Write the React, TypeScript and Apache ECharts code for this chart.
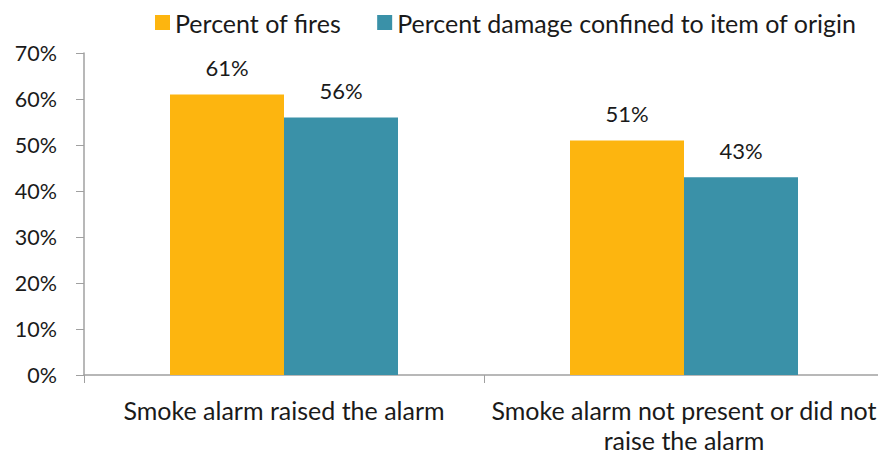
import React, { useEffect, useRef } from "react";
import * as echarts from "echarts";

const categories = ["Smoke alarm raised the alarm", "Smoke alarm not present or did not\nraise the alarm"];
const seriesNames = ["Percent of fires", "Percent damage confined to item of origin"];
const percentOfFires = [61, 51];
const percentConfined = [56, 43];
const yTicks = [0, 10, 20, 30, 40, 50, 60, 70];

const FONT = "Lato";

export default function App() {
  const ref = useRef<HTMLDivElement>(null);
  useEffect(() => {
    const chart = echarts.init(ref.current!, undefined, { renderer: "svg" });
    const labelStyle = {
      show: true,
      position: "top" as const,
      distance: 16,
      formatter: "{c}%",
      fontFamily: FONT,
      fontSize: 22,
      color: "#1a1a1a",
    };
    chart.setOption({
      animation: false,
      textStyle: { fontFamily: FONT },
      legend: {
        top: 5,
        left: 150,
        itemWidth: 15,
        itemHeight: 15,
        itemGap: 36,
        icon: "rect",
        textStyle: { fontFamily: FONT, fontSize: 25, color: "#1a1a1a" },
        data: seriesNames,
      },
      grid: { left: 84, top: 53, width: 800, height: 323, containLabel: false },
      xAxis: {
        type: "category",
        data: categories,
        axisLine: { lineStyle: { color: "#a0a0a0", width: 1.5 } },
        axisTick: { show: true, length: 8, alignWithLabel: false, lineStyle: { color: "#a0a0a0" } },
        axisLabel: {
          fontFamily: FONT,
          fontSize: 25,
          color: "#1a1a1a",
          margin: 20,
          lineHeight: 30,
          interval: 0,
        },
      },
      yAxis: {
        type: "value",
        min: 0,
        max: 70,
        interval: 10,
        splitLine: { show: false },
        axisLine: { show: true, lineStyle: { color: "#a0a0a0", width: 1.5 } },
        axisTick: { show: true, inside: false, length: 8, lineStyle: { color: "#a0a0a0" } },
        axisLabel: {
          fontFamily: FONT,
          fontSize: 21.5,
          color: "#1a1a1a",
          margin: 27,
          formatter: (v: number) => (yTicks.includes(v) ? v + "%" : ""),
        },
      },
      series: [
        {
          name: seriesNames[0],
          type: "bar",
          data: percentOfFires,
          barWidth: 114,
          barGap: "0%",
          itemStyle: { color: "#FDB50F" },
          label: labelStyle,
        },
        {
          name: seriesNames[1],
          type: "bar",
          data: percentConfined,
          barWidth: 114,
          barGap: "0%",
          itemStyle: { color: "#3A91A8" },
          label: labelStyle,
        },
      ],
    });
    return () => chart.dispose();
  }, []);
  return (
    <div
      style={{ position: "fixed", left: 0, top: 0, width: 878, height: 455, overflow: "hidden", background: "#fff" }}
    >
      <div ref={ref} style={{ width: 900, height: 455 }} />
    </div>
  );
}
